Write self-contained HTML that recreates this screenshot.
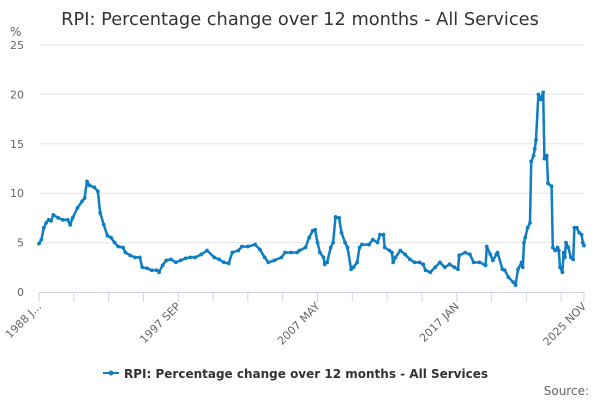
<!DOCTYPE html>
<html><head><meta charset="utf-8"><style>
html,body{margin:0;padding:0;background:#fff;}
svg{display:block;font-family:"DejaVu Sans","Liberation Sans",sans-serif;}
</style></head><body>
<svg id="chart" width="600" height="400" viewBox="0 0 600 400">
<rect x="0" y="0" width="600" height="400" fill="#fff"/>
<text x="300" y="25" text-anchor="middle" font-size="17.8" fill="#333">RPI: Percentage change over 12 months - All Services</text>
<text x="10" y="36" font-size="12" fill="#666">%</text>
<g id="grid"></g><g id="xaxis"></g><g id="series"></g>
<g>
<line x1="103" y1="373" x2="119" y2="373" stroke="#0e7dc2" stroke-width="2"/>
<circle cx="111" cy="373" r="2.5" fill="#0e7dc2"/>
<text x="124" y="378" font-size="12" font-weight="bold" fill="#333">RPI: Percentage change over 12 months - All Services</text>
</g>
<text x="589" y="395" text-anchor="end" font-size="12" fill="#666">Source:</text>
</svg>
<script>
const monthIdx=[0,2,4,6,8,10,12,16,20,24,26,28,32,36,38,40,42,46,49,51,54,57,60,63,66,70,72,76,80,84,86,90,94,98,100,103,106,110,114,118,122,126,130,135,140,146,150,154,158,161,166,169,174,180,184,188,191,196,202,205,210,215,217,222,225,228,230,232,234,237,238,240,243,245,247,250,252,255,257,260,262,265,267,269,275,278,282,284,287,288,292,294,295,297,301,305,309,313,317,320,322,326,330,334,338,342,346,349,350,355,359,362,367,372,373,376,378,381,382,386,388,391,395,397,399,402,403,404,405,407,409,410,412,413,414,416,418,420,421,423,424,427,428,430,432,433,434,436,437,438,439,441,443,445,446,448,450,452,453,454];
const values=[4.9,5.3,6.5,7.0,7.3,7.2,7.8,7.5,7.3,7.3,6.8,7.5,8.5,9.2,9.5,11.2,10.8,10.6,10.2,8.0,6.8,5.7,5.5,5.0,4.6,4.5,4.0,3.7,3.5,3.5,2.5,2.4,2.2,2.2,2.0,2.7,3.2,3.3,3.0,3.2,3.4,3.5,3.5,3.8,4.2,3.5,3.3,3.0,2.9,4.0,4.2,4.6,4.6,4.8,4.3,3.5,3.0,3.2,3.5,4.0,4.0,4.0,4.2,4.5,5.5,6.2,6.3,5.0,4.0,3.5,2.8,3.0,4.5,5.0,7.6,7.5,6.0,5.0,4.5,2.3,2.5,3.0,4.5,4.8,4.8,5.3,5.0,5.8,5.8,4.5,4.2,4.0,3.0,3.5,4.2,3.8,3.3,3.0,3.0,2.8,2.2,2.0,2.5,3.0,2.5,2.8,2.5,2.3,3.7,4.0,3.8,3.0,3.0,2.7,4.6,3.8,3.2,3.8,4.0,2.3,2.2,1.5,1.0,0.7,2.3,3.0,2.5,5.0,5.5,6.5,7.0,13.2,13.8,14.5,15.4,20.0,19.5,20.2,13.5,13.8,11.0,10.7,4.5,4.2,4.5,4.2,2.5,2.0,4.0,3.5,5.0,4.5,3.5,3.3,6.5,6.5,6.0,5.8,5.0,4.7];
const yTicks=[0,5,10,15,20,25];
const xTickMonths=[0,29,58,87,116,145,174,203,232,261,290,319,348,377,406,435,454];
const xLabelMonths=[0,116,232,348,454];
const xLabels=["1988 J...","1997 SEP","2007 MAY","2017 JAN","2025 NOV"];
const NS="http://www.w3.org/2000/svg";
const X0=39,X1=584,Y0=292,Y1=45,MAXM=454,MAXV=25;
const xs=m=>X0+(X1-X0)*m/MAXM;
const ys=v=>Y0-(Y0-Y1)*v/MAXV;
function mk(t,a,p){const e=document.createElementNS(NS,t);for(const k in a)e.setAttribute(k,a[k]);p.appendChild(e);return e;}
const grid=document.getElementById('grid');
yTicks.forEach(v=>{
 if(v>0){const l=mk('line',{x1:X0,x2:X1,y1:ys(v),y2:ys(v),stroke:'#e6e6e6','stroke-width':1},grid);
 
 }
 const t=mk('text',{x:24,y:ys(v)+4,'text-anchor':'end','font-size':11,fill:'#666'},grid);
 t.textContent=v;
 
 
});
const xa=document.getElementById('xaxis');
const axl=mk('line',{x1:X0,x2:X1,y1:Y0+0.5,y2:Y0+0.5,stroke:'#ccd6eb','stroke-width':1},xa);


xTickMonths.forEach(m=>{
 const l=mk('line',{x1:xs(m),x2:xs(m),y1:Y0,y2:Y0+10,stroke:'#ccd6eb','stroke-width':1},xa);
 
 
});
xLabelMonths.forEach((m,i)=>{
 const x=xs(m)+3,y=Y0+15;
 const t=mk('text',{x:x,y:y,'text-anchor':'end','font-size':11,fill:'#666',transform:`rotate(-45 ${x} ${y})`},xa);
 t.textContent=xLabels[i];
 
 
});
const sg=document.getElementById('series');
const pts=monthIdx.map((m,i)=>xs(m).toFixed(1)+','+ys(values[i]).toFixed(1)).join(' ');
const pl=mk('polyline',{points:pts,fill:'none',stroke:'#0e7dc2','stroke-width':2.5,'stroke-linejoin':'round'},sg);


monthIdx.forEach((m,i)=>{
 const c=mk('circle',{cx:xs(m),cy:ys(values[i]),r:1.9,fill:'#0e7dc2'},sg);
 
 
});
</script>
</body></html>
